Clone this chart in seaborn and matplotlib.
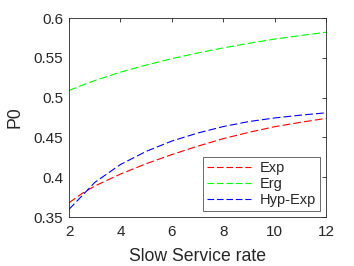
import numpy as np
import pandas as pd
import matplotlib
matplotlib.use("Agg")
import matplotlib.pyplot as plt
import seaborn as sns

rate = [2, 2.5, 3, 4, 5, 6, 7, 8, 9, 10, 11, 12]
p0_exp = [0.368, 0.3795, 0.389, 0.404, 0.417, 0.4285, 0.439, 0.4485, 0.4565, 0.4635, 0.469, 0.474]
p0_erg = [0.509, 0.5155, 0.5215, 0.532, 0.541, 0.549, 0.5561, 0.5625, 0.5683, 0.5736, 0.578, 0.5822]
p0_hyp = [0.3597, 0.3765, 0.3935, 0.416, 0.4325, 0.4455, 0.4555, 0.4637, 0.4700, 0.4745, 0.478, 0.481]

sns.set_style("white")
plt.rcParams['font.family'] = ['Liberation Sans', 'DejaVu Sans']

fig = plt.figure(figsize=(3.54, 2.66), dpi=100)
ax = fig.add_axes([0.195, 0.184, 0.726, 0.748])

sns.lineplot(x=rate, y=p0_exp, ax=ax, color='#ff0000', lw=0.8, label='Exp')
sns.lineplot(x=rate, y=p0_erg, ax=ax, color='#00ff00', lw=0.8, label='Erg')
sns.lineplot(x=rate, y=p0_hyp, ax=ax, color='#0000ff', lw=0.8, label='Hyp-Exp')
for ln in ax.get_lines():
    ln.set_dashes((7, 2.8))

ax.set_xlim(2, 12)
ax.set_ylim(0.35, 0.6)
ax.set_xticks([2, 4, 6, 8, 10, 12])
ax.set_yticks([0.35, 0.4, 0.45, 0.5, 0.55, 0.6])
ax.set_yticklabels(['0.35', '0.4', '0.45', '0.5', '0.55', '0.6'])
ax.tick_params(direction='in', top=True, right=True, length=3, width=0.6,
               labelsize=11, colors='#262626', pad=4)
ax.tick_params(axis='x', pad=6)
for s in ax.spines.values():
    s.set_color('#262626')
    s.set_linewidth(0.6)
ax.set_xlabel('Slow Service rate', fontsize=12.7, color='#262626', labelpad=6.5)
ax.set_ylabel('P0', fontsize=12.7, color='#262626', labelpad=7.5)

leg = ax.legend(loc='lower right', fontsize=10.5, frameon=True, fancybox=False,
                edgecolor='#262626', borderaxespad=0.4, handlelength=3.0,
                labelspacing=0.12, borderpad=0.3, handletextpad=0.6)
leg.get_frame().set_linewidth(0.6)
for h in leg.get_lines():
    h.set_dashes((6, 2.5))

fig.savefig('out.png', dpi=100)
